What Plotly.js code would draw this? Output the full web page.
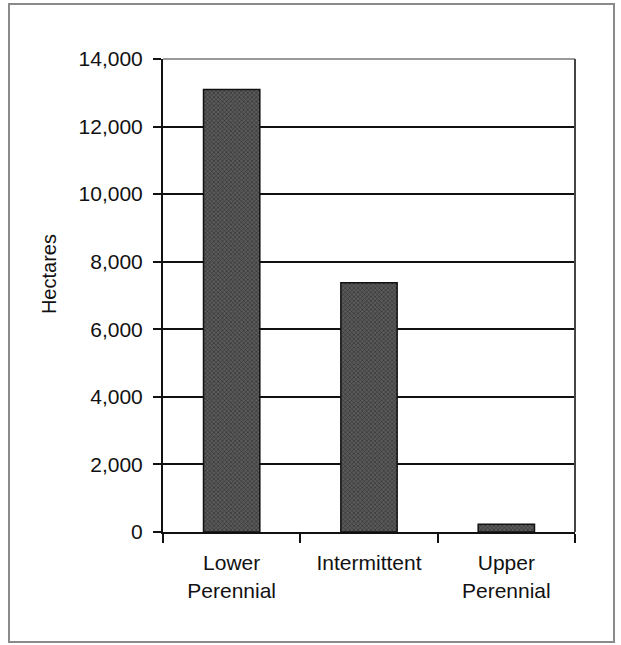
<!DOCTYPE html>
<html>
<head>
<meta charset="utf-8">
<script src="https://cdn.plot.ly/plotly-3.0.1.min.js"></script>
<style>
  html, body { margin: 0; padding: 0; background: #fff; }
  #wrap { position: relative; width: 621px; height: 645px; }
  #chart { width: 621px; height: 645px; }
  #frame { position: absolute; left: 8px; top: 3px; width: 603px; height: 636px;
           border: 2px solid #8a8a8a; pointer-events: none; }
</style>
</head>
<body>
<div id="wrap">
  <div id="chart"></div>
  <div id="frame"></div>
</div>
<script>
const categories = ["Lower<br>Perennial", "Intermittent", "Upper<br>Perennial"];
const hectares = [13100, 7380, 230];
const yTickValues = [0, 2000, 4000, 6000, 8000, 10000, 12000, 14000];
const yTickLabels = ["0", "2,000", "4,000", "6,000", "8,000", "10,000", "12,000", "14,000"];
const yTitle = "Hectares";

const font = { family: "Liberation Sans, Arial, sans-serif", size: 21, color: "#111" };

const trace = {
  type: "bar",
  x: categories,
  y: hectares,
  width: 0.41,
  marker: {
    color: "#505050",
    line: { color: "#111", width: 1.5 },
    pattern: { shape: "x", fgcolor: "#2e2e2e", bgcolor: "#5a5a5a", size: 3, solidity: 0.35 }
  },
  hoverinfo: "skip"
};

const layout = {
  width: 621,
  height: 645,
  margin: { l: 163, r: 46, t: 59, b: 113 },
  paper_bgcolor: "#fff",
  plot_bgcolor: "#fff",
  font: font,
  showlegend: false,
  xaxis: {
    type: "category",
    tickson: "boundaries",
    ticks: "outside",
    ticklen: 9,
    tickwidth: 2,
    tickcolor: "#111",
    showline: true,
    linecolor: "#111",
    linewidth: 2,
    showgrid: false,
    tickfont: font,
    ticklabelstandoff: 11,
    fixedrange: true
  },
  yaxis: {
    range: [0, 14000],
    tickvals: yTickValues,
    ticktext: yTickLabels,
    ticks: "outside",
    ticklen: 8,
    tickwidth: 2,
    tickcolor: "#111",
    showline: true,
    linecolor: "#111",
    linewidth: 2,
    showgrid: true,
    gridcolor: "#111",
    gridwidth: 2,
    zeroline: false,
    tickfont: font,
    ticklabelstandoff: 6,
    fixedrange: true
  },
  shapes: [
    { type: "line", xref: "paper", yref: "paper", x0: 0, x1: 1, y0: 1, y1: 1,
      line: { color: "#9a9a9a", width: 2 }, layer: "above" },
    { type: "line", xref: "paper", yref: "paper", x0: 1, x1: 1, y0: 0, y1: 1,
      line: { color: "#444", width: 2 }, layer: "above" }
  ],
  annotations: [
    { text: yTitle, xref: "paper", yref: "paper", x: -0.277, y: 0.545,
      xanchor: "center", yanchor: "middle", textangle: -90, showarrow: false,
      font: { family: font.family, size: 20, color: "#111" } }
  ]
};

Plotly.newPlot("chart", [trace], layout, { staticPlot: true, displayModeBar: false });
</script>
</body>
</html>
